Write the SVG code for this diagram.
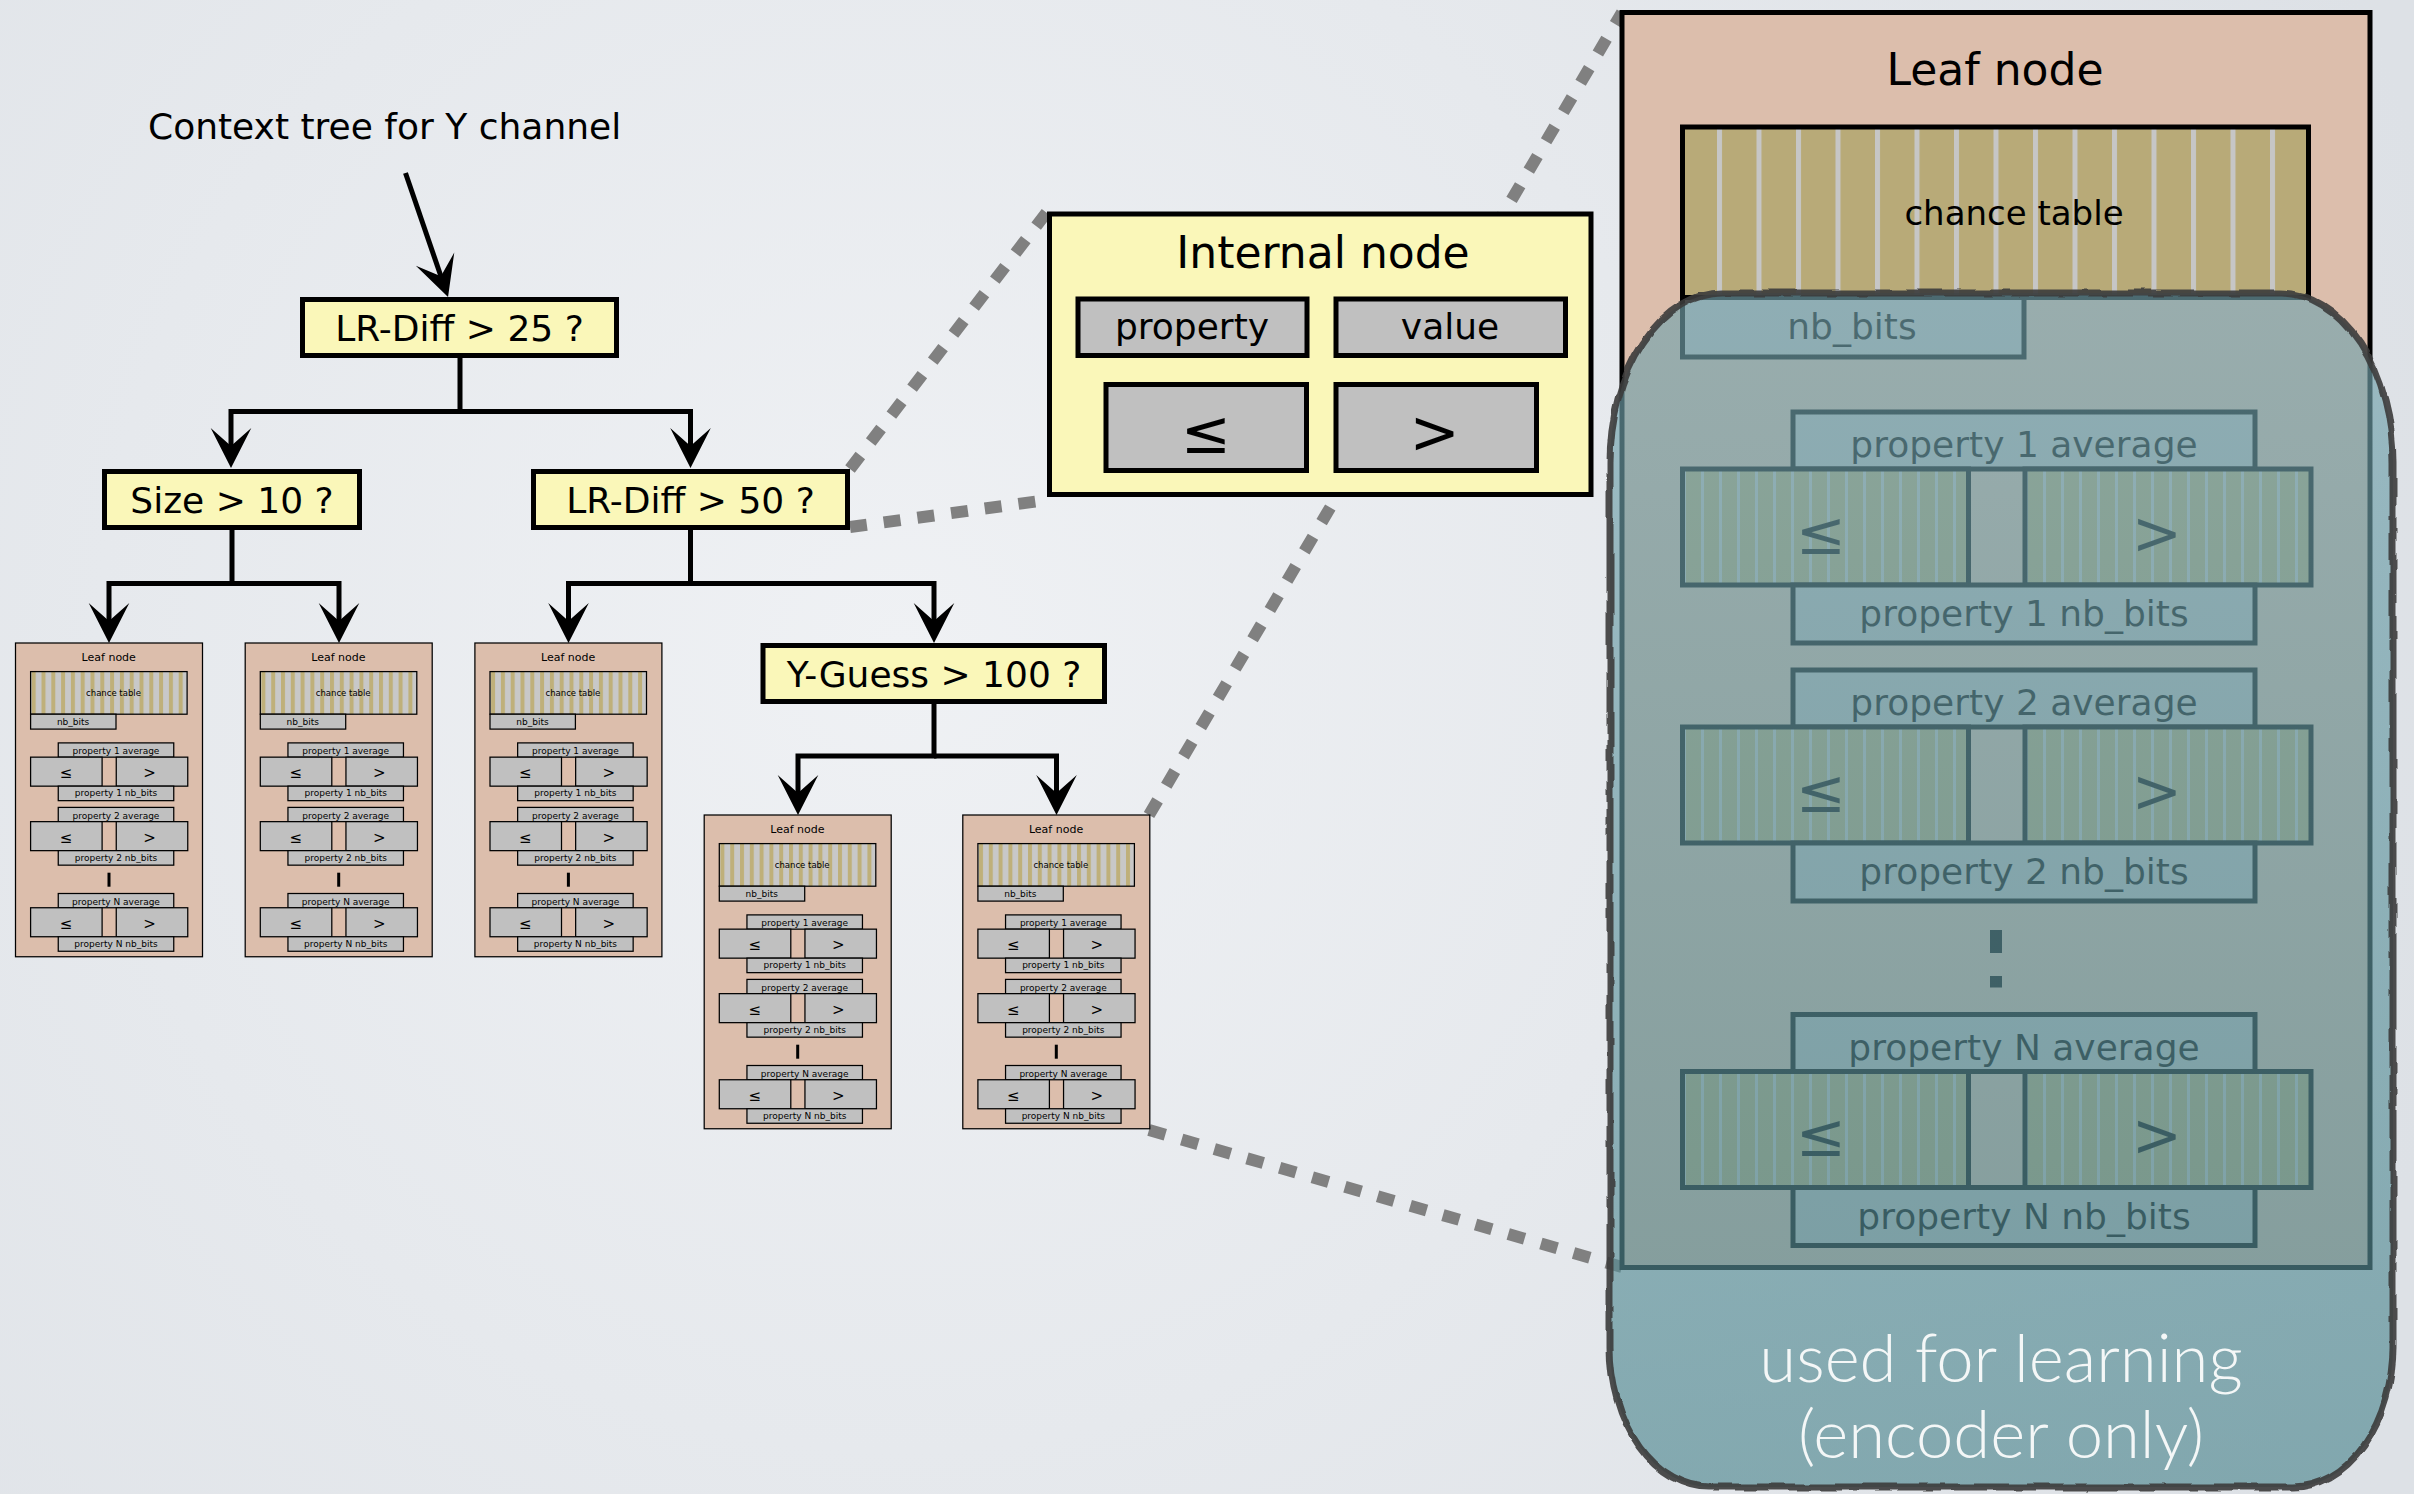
<svg xmlns="http://www.w3.org/2000/svg" xmlns:xlink="http://www.w3.org/1999/xlink" width="2414" height="1494" viewBox="0 0 2414 1494">
<style>
.t{font-family:"DejaVu Sans",sans-serif;fill:#000}
.c{text-anchor:middle}
.tbox{fill:#faf7b9;stroke:#000;stroke-width:5}
.conn{fill:none;stroke:#000;stroke-width:5;stroke-linejoin:miter;marker-end:url(#arr)}
.zoom{fill:none;stroke:#808080;stroke-width:12;stroke-dasharray:17 17}
.gs{fill:#c0c0c0;stroke:#000;stroke-width:1.25}
.gb{fill:#c0c0c0;stroke:#000;stroke-width:5}
.leaf{fill:#dcbeac;stroke:#000}
.ovt{font-family:Lato,"Open Sans",sans-serif;font-weight:300;font-size:67px;fill:#f4f7f7;text-anchor:middle}
</style>
<defs>
<radialGradient id="bgGrad" cx="900" cy="650" r="1600" gradientUnits="userSpaceOnUse">
<stop offset="0" stop-color="#eff1f4"/><stop offset="1" stop-color="#dde1e6"/>
</radialGradient>
<linearGradient id="ovGrad" x1="0" y1="290" x2="0" y2="1490" gradientUnits="userSpaceOnUse">
<stop offset="0" stop-color="#75a4ae"/><stop offset="1" stop-color="#508890"/>
</linearGradient>
<filter id="rough" x="-5%" y="-5%" width="110%" height="110%">
<feTurbulence type="fractalNoise" baseFrequency="0.04" numOctaves="2" seed="3" result="n"/>
<feDisplacementMap in="SourceGraphic" in2="n" scale="5" xChannelSelector="R" yChannelSelector="G"/>
</filter>
<pattern id="stripeS" patternUnits="userSpaceOnUse" x="16.2" y="0" width="9.8" height="10">
<rect width="9.8" height="10" fill="#c8c8c8"/><rect x="0" width="4" height="10" fill="#bfb07a"/>
</pattern>
<pattern id="stripeCT" patternUnits="userSpaceOnUse" x="95" y="0" width="39.5" height="10">
<rect width="39.5" height="10" fill="#b8aa78"/><rect x="0" width="5" height="10" fill="#c6c6c6"/>
</pattern>
<pattern id="stripeRow" patternUnits="userSpaceOnUse" x="79" y="0" width="18" height="10">
<rect width="18" height="10" fill="#b8aa78"/><rect x="0" width="3" height="10" fill="#c6c6c6"/>
</pattern>
<marker id="arr" markerUnits="userSpaceOnUse" viewBox="-25 -22 46 44" refX="0" refY="0" markerWidth="46" markerHeight="44" orient="auto" overflow="visible">
<path d="M18,0 L-22,-20.3 L-4,0 L-22,20.3 Z" fill="#000"/>
</marker>
<g id="smallLeaf">
<rect class="leaf" x="0" y="0" width="187" height="313.75" stroke-width="1.25"/>
<text class="t c" x="93.25" y="18.1" font-size="11">Leaf node</text>
<rect x="15.1" y="28.6" width="156.5" height="42.6" fill="url(#stripeS)" stroke="#000" stroke-width="1.25"/>
<text class="t c" x="98" y="53.1" font-size="8.5">chance table</text>
<rect class="gs" x="15.1" y="71.2" width="85.4" height="14.9"/>
<text class="t c" x="57.6" y="81.8" font-size="9">nb_bits</text>
<rect class="gs" x="42.75" y="99.9" width="115.5" height="14.25"/>
<text class="t c" x="100.5" y="111" font-size="9">property 1 average</text>
<rect class="gs" x="15.1" y="114.15" width="71.5" height="29"/>
<rect class="gs" x="100.75" y="114.15" width="71.5" height="29"/>
<text class="t c" x="50.5" y="135.3" font-size="15">≤</text>
<text class="t c" x="134" y="135.3" font-size="15">&gt;</text>
<rect class="gs" x="42.75" y="143.15" width="115.5" height="14.5"/>
<text class="t c" x="100.5" y="153.4" font-size="9">property 1 nb_bits</text>
<rect class="gs" x="42.75" y="164.4" width="115.5" height="14.25"/>
<text class="t c" x="100.5" y="175.5" font-size="9">property 2 average</text>
<rect class="gs" x="15.1" y="178.65" width="71.5" height="29"/>
<rect class="gs" x="100.75" y="178.65" width="71.5" height="29"/>
<text class="t c" x="50.5" y="199.8" font-size="15">≤</text>
<text class="t c" x="134" y="199.8" font-size="15">&gt;</text>
<rect class="gs" x="42.75" y="207.65" width="115.5" height="14.5"/>
<text class="t c" x="100.5" y="217.9" font-size="9">property 2 nb_bits</text>
<rect x="92" y="229.7" width="3" height="14" fill="#000"/>
<rect class="gs" x="42.75" y="250.5" width="115.5" height="14.25"/>
<text class="t c" x="100.5" y="261.6" font-size="9">property N average</text>
<rect class="gs" x="15.1" y="264.75" width="71.5" height="29"/>
<rect class="gs" x="100.75" y="264.75" width="71.5" height="29"/>
<text class="t c" x="50.5" y="285.9" font-size="15">≤</text>
<text class="t c" x="134" y="285.9" font-size="15">&gt;</text>
<rect class="gs" x="42.75" y="293.75" width="115.5" height="14.5"/>
<text class="t c" x="100.5" y="304" font-size="9">property N nb_bits</text>
</g>
</defs>

<rect x="0" y="0" width="2414" height="1494" fill="url(#bgGrad)"/>

<g id="zoom-lines">
<line class="zoom" x1="1149" y1="815" x2="1622" y2="12.5"/>
<line class="zoom" x1="850" y1="527" x2="1047" y2="500"/>
<line class="zoom" x1="850" y1="469" x2="1047" y2="212"/>
<line class="zoom" x1="1149" y1="1130" x2="1622" y2="1267"/>
</g>

<g id="connectors">
<path class="conn" d="M405.5,173 L442.2,280"/>
<path class="conn" d="M460,358 V411.5 H231 V450"/>
<path class="conn" d="M460,411.5 H690.5 V450"/>
<path class="conn" d="M232,530 V583.5 H109 V625"/>
<path class="conn" d="M232,583.5 H339 V625"/>
<path class="conn" d="M690.5,530 V583.5 H568.5 V625"/>
<path class="conn" d="M690.5,583.5 H934 V625"/>
<path class="conn" d="M934,704 V756 H798 V797"/>
<path class="conn" d="M934,756 H1056.5 V797"/>
</g>

<g id="title">
<text class="t" x="148" y="139" font-size="36">Context tree for Y channel</text>
</g>

<g id="node-lrdiff25">
<rect class="tbox" x="302.5" y="299.5" width="314" height="56"/>
<text class="t c" x="459.5" y="340.5" font-size="36">LR-Diff &gt; 25 ?</text>
</g>
<g id="node-size10">
<rect class="tbox" x="104.5" y="471.5" width="255" height="56"/>
<text class="t c" x="232" y="512.5" font-size="36">Size &gt; 10 ?</text>
</g>
<g id="node-lrdiff50">
<rect class="tbox" x="533.5" y="471.5" width="314" height="56"/>
<text class="t c" x="690.5" y="512.5" font-size="36">LR-Diff &gt; 50 ?</text>
</g>
<g id="node-yguess100">
<rect class="tbox" x="763" y="645.5" width="341.5" height="56"/>
<text class="t c" x="934" y="686.5" font-size="36">Y-Guess &gt; 100 ?</text>
</g>

<g id="leaf-1"><use xlink:href="#smallLeaf" href="#smallLeaf" x="15.5" y="643"/></g>
<g id="leaf-2"><use xlink:href="#smallLeaf" href="#smallLeaf" x="245.2" y="643"/></g>
<g id="leaf-3"><use xlink:href="#smallLeaf" href="#smallLeaf" x="474.9" y="643"/></g>
<g id="leaf-4"><use xlink:href="#smallLeaf" href="#smallLeaf" x="704.2" y="815"/></g>
<g id="leaf-5"><use xlink:href="#smallLeaf" href="#smallLeaf" x="962.8" y="815"/></g>

<g id="internal-node-detail">
<rect x="1049.5" y="214" width="541.5" height="280.5" fill="#faf7b9" stroke="#000" stroke-width="5"/>
<text class="t c" x="1323" y="268" font-size="44">Internal node</text>
<rect class="gb" x="1078" y="299" width="229" height="56.5"/>
<text class="t c" x="1192" y="339" font-size="36">property</text>
<rect class="gb" x="1336" y="299" width="229.5" height="56.5"/>
<text class="t c" x="1450" y="339" font-size="36">value</text>
<rect class="gb" x="1106" y="384.5" width="200.5" height="86"/>
<text class="t c" x="1206" y="453" font-size="60">≤</text>
<rect class="gb" x="1336" y="384.5" width="200.5" height="86"/>
<text class="t c" x="1434.6" y="453" font-size="60">&gt;</text>
</g>

<g id="leaf-node-detail" transform="translate(1622,12.5)">
<rect class="leaf" x="0" y="0" width="748" height="1255" stroke-width="5"/>
<text class="t c" x="373" y="72.5" font-size="44">Leaf node</text>
<rect x="60.5" y="114.5" width="626" height="170.5" fill="url(#stripeCT)" stroke="#000" stroke-width="5"/>
<text class="t c" x="392" y="212.5" font-size="34">chance table</text>
<rect class="gb" x="60.5" y="285" width="341.5" height="59.5"/>
<text class="t c" x="230" y="326.5" font-size="36">nb_bits</text>

<rect class="gb" x="171" y="399.5" width="462" height="57"/>
<text class="t c" x="402" y="444.5" font-size="36">property 1 average</text>
<rect x="60.5" y="456.5" width="286" height="116" fill="url(#stripeRow)" stroke="#000" stroke-width="5"/>
<rect x="403" y="456.5" width="286" height="116" fill="url(#stripeRow)" stroke="#000" stroke-width="5"/>
<text class="t c" x="199" y="541" font-size="60">≤</text>
<text class="t c" x="535" y="541" font-size="60">&gt;</text>
<rect class="gb" x="171" y="572.5" width="462" height="58"/>
<text class="t c" x="402" y="613.5" font-size="36">property 1 nb_bits</text>

<rect class="gb" x="171" y="657.5" width="462" height="57"/>
<text class="t c" x="402" y="702.5" font-size="36">property 2 average</text>
<rect x="60.5" y="714.5" width="286" height="116" fill="url(#stripeRow)" stroke="#000" stroke-width="5"/>
<rect x="403" y="714.5" width="286" height="116" fill="url(#stripeRow)" stroke="#000" stroke-width="5"/>
<text class="t c" x="199" y="799" font-size="60">≤</text>
<text class="t c" x="535" y="799" font-size="60">&gt;</text>
<rect class="gb" x="171" y="830.5" width="462" height="58"/>
<text class="t c" x="402" y="871.5" font-size="36">property 2 nb_bits</text>

<rect x="368" y="917.5" width="12" height="23" fill="#000"/>
<rect x="368" y="963.5" width="12" height="11.5" fill="#000"/>

<rect class="gb" x="171" y="1002" width="462" height="57"/>
<text class="t c" x="402" y="1047" font-size="36">property N average</text>
<rect x="60.5" y="1059" width="286" height="116" fill="url(#stripeRow)" stroke="#000" stroke-width="5"/>
<rect x="403" y="1059" width="286" height="116" fill="url(#stripeRow)" stroke="#000" stroke-width="5"/>
<text class="t c" x="199" y="1143.5" font-size="60">≤</text>
<text class="t c" x="535" y="1143.5" font-size="60">&gt;</text>
<rect class="gb" x="171" y="1175" width="462" height="58"/>
<text class="t c" x="402" y="1216" font-size="36">property N nb_bits</text>
</g>

<g id="learning-overlay">
<path d="M1722,293 H2281 A112,170 0 0 1 2393,463 V1347 A100,140 0 0 1 2293,1487 H1710 A100,140 0 0 1 1610,1347 V463 A112,170 0 0 1 1722,293 Z" fill="url(#ovGrad)" fill-opacity="0.65"/>
<path d="M1722,293 H2281 A112,170 0 0 1 2393,463 V1347 A100,140 0 0 1 2293,1487 H1710 A100,140 0 0 1 1610,1347 V463 A112,170 0 0 1 1722,293 Z" fill="none" stroke="#3c3c3c" stroke-opacity="0.9" stroke-width="7" filter="url(#rough)"/>
<text class="ovt" x="2001" y="1382">used for learning</text>
<text class="ovt" x="2001" y="1458">(encoder only)</text>
</g>
</svg>
